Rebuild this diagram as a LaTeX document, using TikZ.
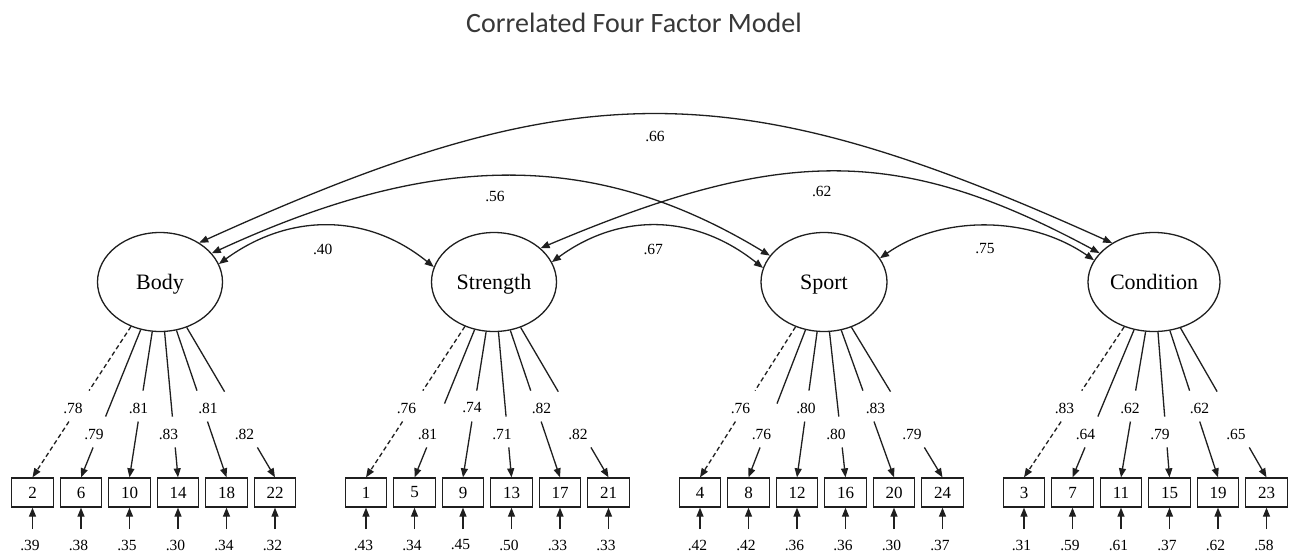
\documentclass[tikz,border=0pt]{standalone}
\usepackage{fontspec}
\setmainfont{Liberation Serif}
\newfontfamily\titlefont{Carlito}
\usetikzlibrary{arrows.meta,calc,shapes.geometric}

\newcommand\mygroup[4]{%
  \foreach \n/\lab/\res [count=\i from 0] in {#4} {
    \pgfmathsetmacro\bxx{#2+48.5*\i}
    \pgfmathsetmacro\rxx{\bxx-2.5}
    \pgfmathsetmacro\lx{#2+{40.5,61.5,106,136,175.5,212}[\i]}
    \pgfmathsetmacro\ly{{408,434,408,434,408,434}[\i]}
    \pgfmathsetmacro\ga{{391,#3,391,417,391,392}[\i]}
    \pgfmathsetmacro\gb{{422,448,422,448,422,448}[\i]}
    \pgfmathsetmacro\ta{(\ga-282)/196}
    \pgfmathsetmacro\tb{(\gb-282)/196}
    \ifnum\i=0 \def\dsh{dashload}\else\def\dsh{solidload}\fi
    \node[obs] (b\n) at (\bxx,492.5) {\n};
    \coordinate (e\n) at (\bxx,529);
    \draw[ln,->] (e\n) -- (b\n.south);
    \node[est] (r\n) at (\rxx,545) {\res};
    \coordinate (p\n) at ($(#1.center)!\ta!(b\n.north)$);
    \coordinate (q\n) at ($(#1.center)!\tb!(b\n.north)$);
    \draw[ln,\dsh] (#1) -- (p\n);
    \draw[ln,\dsh,->] (q\n) -- (b\n.north);
    \node[est] (l\n) at (\lx,\ly) {\lab};
  }%
}

\begin{document}
\begin{tikzpicture}[x=1pt,y=-1pt,
  >={Triangle[length=9pt,width=7pt]},
  ln/.style={line width=1.3pt,draw=black!88},
  dashload/.style={dash pattern=on 4.5pt off 3pt},
  solidload/.style={solid},
  latent/.style={ellipse,draw=black!88,line width=1.3pt,minimum height=99pt,inner sep=0pt,
    text height=14pt,text depth=0pt,font=\fontsize{22}{26}\selectfont},
  obs/.style={rectangle,draw=black!88,line width=1.3pt,minimum width=41.5pt,minimum height=29pt,
    inner sep=0pt,font=\fontsize{17}{20}\selectfont},
  est/.style={inner sep=0pt,font=\fontsize{15.5}{18}\selectfont},
  cov/.style={ln,<->},
  ttl/.style={font=\titlefont\fontsize{28}{33}\selectfont,text=black!78,inner sep=0pt,anchor=base}
]
\useasboundingbox (0,0) rectangle (1293,554);
\fill[white] (0,0) rectangle (1293,554);

\node[ttl] (title) at (634,32.7) {Correlated Four Factor Model};

\node[latent,minimum width=125pt] (body) at (160,282) {Body};
\node[latent,minimum width=125pt] (strength) at (494,282) {Strength};
\node[latent,minimum width=126pt] (sport) at (824,282) {Sport};
\node[latent,minimum width=132pt] (condition) at (1154,282) {Condition};

\mygroup{body}{32.5}{417}{2/.78/.39, 6/.79/.38, 10/.81/.35, 14/.83/.30, 18/.81/.34, 22/.82/.32}
\mygroup{strength}{366}{404}{1/.76/.43, 5/.81/.34, 9/.74/.45, 13/.71/.50, 17/.82/.33, 21/.82/.33}
\mygroup{sport}{700}{404}{4/.76/.42, 8/.76/.42, 12/.80/.36, 16/.80/.36, 20/.83/.30, 24/.79/.37}
\mygroup{condition}{1024}{417}{3/.83/.31, 7/.64/.59, 11/.62/.61, 15/.79/.37, 19/.62/.62, 23/.65/.58}

\draw[cov] (body.17) .. controls (289,212.8) and (367,212.8) .. (strength.166);
\draw[cov] (body.29) .. controls (436,150) and (596,150) .. (sport.154);
\draw[cov] (body.45) .. controls (577,71.6) and (733,71.6) .. (condition.137);
\draw[cov] (strength.36) .. controls (783,145.5) and (900,145.5) .. (condition.152);
\draw[cov] (strength.19) .. controls (619,212.9) and (694,212.9) .. (sport.167);
\draw[cov] (sport.23) .. controls (941,215.1) and (1029,215.1) .. (condition.160);

\node[est] (c40) at (322.7,249) {.40};
\node[est] (c56) at (495,196.7) {.56};
\node[est] (c66) at (655,136.7) {.66};
\node[est] (c62) at (821.7,191.7) {.62};
\node[est] (c67) at (653.3,249) {.67};
\node[est] (c75) at (985,249) {.75};
\end{tikzpicture}
\end{document}
